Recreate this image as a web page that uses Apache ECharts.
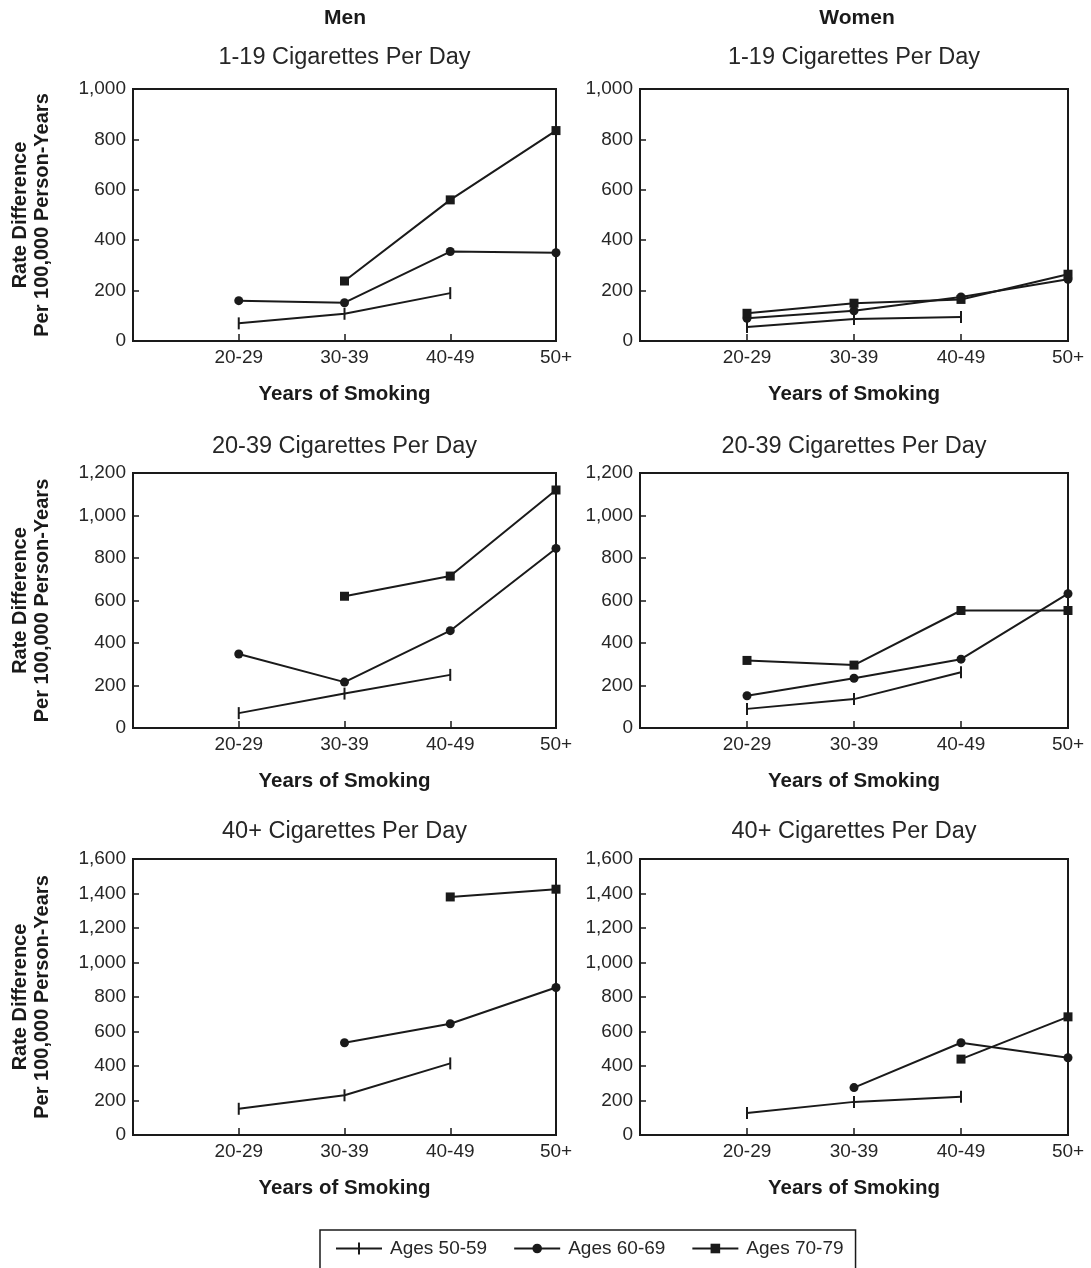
<!DOCTYPE html>
<html>
<head>
<meta charset="utf-8">
<script src="https://cdn.jsdelivr.net/npm/echarts@6/dist/echarts.min.js"></script>
<style>
html,body{margin:0;padding:0;background:#fff;}
#chart{width:1091px;height:1268px;}
</style>
</head>
<body>
<div id="chart"></div>
<script>
// ---- data ----
const categories = ['', '20-29', '30-39', '40-49', '50+'];
const seriesNames = ['Ages 50-59', 'Ages 60-69', 'Ages 70-79'];
const columnTitles = ['Men', 'Women'];
const rowTitles = ['1-19 Cigarettes Per Day', '20-39 Cigarettes Per Day', '40+ Cigarettes Per Day'];
const yMax = [1000, 1200, 1600];
const yInterval = 200;

// Men
const men_1_19_a50 = [null, 70, 108, 190, null];
const men_1_19_a60 = [null, 160, 152, 355, 350];
const men_1_19_a70 = [null, null, 238, 560, 835];
const men_20_39_a50 = [null, 70, 162, 250, null];
const men_20_39_a60 = [null, 348, 216, 458, 845];
const men_20_39_a70 = [null, null, 620, 715, 1120];
const men_40_a50 = [null, 152, 230, 415, null];
const men_40_a60 = [null, null, 535, 645, 855];
const men_40_a70 = [null, null, null, 1380, 1425];
// Women
const women_1_19_a50 = [null, 56, 87, 95, null];
const women_1_19_a60 = [null, 90, 120, 175, 245];
const women_1_19_a70 = [null, 110, 150, 165, 265];
const women_20_39_a50 = [null, 90, 136, 262, null];
const women_20_39_a60 = [null, 152, 234, 324, 632];
const women_20_39_a70 = [null, 318, 296, 553, 553];
const women_40_a50 = [null, 128, 192, 222, null];
const women_40_a60 = [null, null, 275, 535, 448];
const women_40_a70 = [null, null, null, 440, 685];

const panels = [
  [men_1_19_a50, men_1_19_a60, men_1_19_a70],
  [women_1_19_a50, women_1_19_a60, women_1_19_a70],
  [men_20_39_a50, men_20_39_a60, men_20_39_a70],
  [women_20_39_a50, women_20_39_a60, women_20_39_a70],
  [men_40_a50, men_40_a60, men_40_a70],
  [women_40_a50, women_40_a60, women_40_a70]
];

// ---- layout ----
const colLeft = [133, 640];
const colWidth = [423, 428];
const rowTop = [89, 473, 859];
const rowHeight = [252, 255, 276];
const INK = '#1a1a1a';
const TXT = '#262626';
const FONT = '"Liberation Sans", Arial, Helvetica, sans-serif';

const grids = [], xAxes = [], yAxes = [], series = [], graphics = [];
for (let r = 0; r < 3; r++) {
  for (let c = 0; c < 2; c++) {
    const i = r * 2 + c;
    grids.push({
      left: colLeft[c], top: rowTop[r], width: colWidth[c], height: rowHeight[r],
      show: true, borderColor: INK, borderWidth: 2, backgroundColor: '#fff'
    });
    xAxes.push({
      type: 'category', gridIndex: i, data: categories, boundaryGap: false,
      name: 'Years of Smoking', nameLocation: 'middle', nameGap: 43,
      nameTextStyle: { fontFamily: FONT, fontSize: 20.5, fontWeight: 'bold', color: INK },
      axisLine: { show: true, lineStyle: { color: INK, width: 2 } },
      axisTick: { show: true, inside: true, length: 7, interval: 0, lineStyle: { color: INK, width: 1.5 } },
      axisLabel: { interval: 0, fontFamily: FONT, fontSize: 19, color: TXT, margin: 7 },
      splitLine: { show: false }
    });
    yAxes.push({
      type: 'value', gridIndex: i, min: 0, max: yMax[r], interval: yInterval,
      name: c === 0 ? 'Rate Difference\nPer 100,000 Person-Years' : '',
      nameLocation: 'middle', nameRotate: 90, nameGap: 80,
      nameTextStyle: { fontFamily: FONT, fontSize: 20, fontWeight: 'bold', color: INK, lineHeight: 22 },
      axisLine: { show: true, lineStyle: { color: INK, width: 2 } },
      axisTick: { show: true, inside: true, length: 6, lineStyle: { color: INK, width: 1.5 } },
      axisLabel: {
        fontFamily: FONT, fontSize: 19, color: TXT, margin: 7,
        formatter: v => v.toLocaleString('en-US')
      },
      splitLine: { show: false }
    });
    const sym = [['rect', [2, 12]], ['circle', 9], ['rect', 9]];
    panels[i].forEach((d, k) => {
      series.push({
        type: 'line', name: seriesNames[k], xAxisIndex: i, yAxisIndex: i, data: d,
        symbol: sym[k][0], symbolSize: sym[k][1], showSymbol: true,
        lineStyle: { color: INK, width: 2 }, itemStyle: { color: INK },
        connectNulls: false, animation: false
      });
    });
    graphics.push({
      type: 'text', x: colLeft[c] + colWidth[c] / 2, y: [58, 447, 832][r],
      style: { text: rowTitles[r], textAlign: 'center', textVerticalAlign: 'middle',
        font: '23.5px ' + FONT, fill: TXT }
    });
  }
}
for (let c = 0; c < 2; c++) {
  graphics.push({
    type: 'text', x: [345, 857][c], y: 18,
    style: { text: columnTitles[c], textAlign: 'center', textVerticalAlign: 'middle',
      font: 'bold 21px ' + FONT, fill: INK }
  });
}

const tickIcon = 'path://M0,5 L22,5 L22,0 L24,0 L24,5 L46,5 L46,7 L24,7 L24,12 L22,12 L22,7 L0,7 Z';

const chart = echarts.init(document.getElementById('chart'), null, { renderer: 'canvas' });
chart.setOption({
  backgroundColor: '#fff',
  animation: false,
  grid: grids, xAxis: xAxes, yAxis: yAxes, series: series,
  graphic: graphics,
  legend: {
    data: [{ name: seriesNames[0], icon: tickIcon }, seriesNames[1], seriesNames[2]],
    left: 320, top: 1230,
    orient: 'horizontal', itemWidth: 46, itemHeight: 12, itemGap: 26,
    padding: [9, 12, 16, 16], borderColor: INK, borderWidth: 1.5,
    textStyle: { fontFamily: FONT, fontSize: 19, color: TXT, padding: [0, 0, 0, 3] },
    selectedMode: false
  }
});
</script>
</body>
</html>
